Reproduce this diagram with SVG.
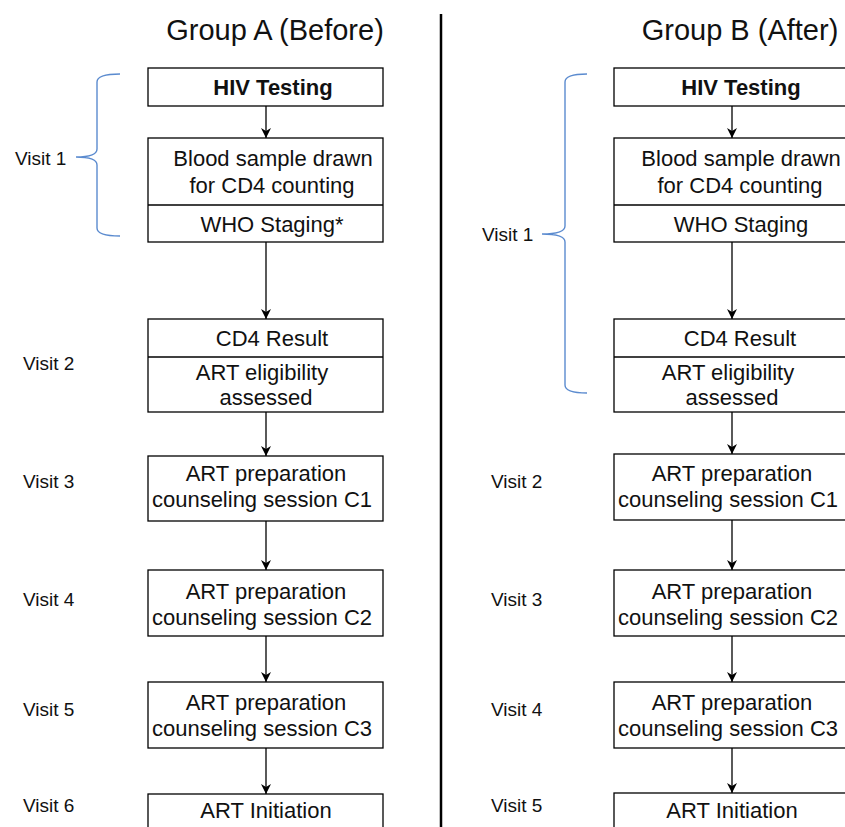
<svg xmlns="http://www.w3.org/2000/svg" width="845" height="827" viewBox="0 0 845 827">
<defs>
<marker id="arr" viewBox="0 0 10 10" refX="10" refY="5" markerWidth="10" markerHeight="10" markerUnits="userSpaceOnUse" orient="auto">
<path d="M0,0 L10,5 L0,10 L3,5 z" fill="#000"/>
</marker>
<style>
.box{fill:#fff;stroke:#000;stroke-width:1.3}
.div{stroke:#000;stroke-width:1.3}
.t{font-family:"Liberation Sans",Arial,sans-serif;font-size:22px;fill:#111;text-anchor:middle}
.b{font-weight:bold}
.title{font-family:"Liberation Sans",Arial,sans-serif;font-size:29px;fill:#111;text-anchor:middle}
.v{font-family:"Liberation Sans",Arial,sans-serif;font-size:19px;fill:#111}
.c{stroke:#000;stroke-width:1.3;fill:none;marker-end:url(#arr)}
.brace{stroke:#5b8bcf;stroke-width:1.4;fill:none}
</style>
</defs>
<rect width="845" height="827" fill="#fff"/>
<g id="titles">
<text class="title" x="275" y="40">Group A (Before)</text>
<text class="title" x="740" y="40">Group B (After)</text>
</g>
<line x1="441" y1="14" x2="441" y2="827" stroke="#000" stroke-width="2.5"/>
<g id="labelsA">
<text class="v" x="15" y="165">Visit 1</text>
<text class="v" x="23" y="370">Visit 2</text>
<text class="v" x="23" y="488">Visit 3</text>
<text class="v" x="23" y="606">Visit 4</text>
<text class="v" x="23" y="716">Visit 5</text>
<text class="v" x="23" y="812">Visit 6</text>
</g>
<g id="labelsB">
<text class="v" x="482" y="241">Visit 1</text>
<text class="v" x="491" y="488">Visit 2</text>
<text class="v" x="491" y="606">Visit 3</text>
<text class="v" x="491" y="716">Visit 4</text>
<text class="v" x="491" y="812">Visit 5</text>
</g>
<g id="braceA"><path class="brace" d="M120,74 Q97,74 97,82 L97,149 Q97,157 76,157 Q97,157 97,165 L97,228 Q97,236 120,236"/></g>
<g id="braceB"><path class="brace" d="M587,74 Q565,74 565,82 L565,226 Q565,234 542,234 Q565,234 565,242 L565,385 Q565,393 587,393"/></g>
<g id="connectors">
<line class="c" x1="266" y1="106" x2="266" y2="138"/>
<line class="c" x1="266" y1="242" x2="266" y2="319"/>
<line class="c" x1="266" y1="412" x2="266" y2="456"/>
<line class="c" x1="266" y1="521" x2="266" y2="570"/>
<line class="c" x1="266" y1="636" x2="266" y2="682"/>
<line class="c" x1="266" y1="748" x2="266" y2="794"/>
<line class="c" x1="732" y1="106" x2="732" y2="138"/>
<line class="c" x1="732" y1="242" x2="732" y2="319"/>
<line class="c" x1="732" y1="412" x2="732" y2="454"/>
<line class="c" x1="732" y1="520" x2="732" y2="570"/>
<line class="c" x1="732" y1="636" x2="732" y2="682"/>
<line class="c" x1="732" y1="748" x2="732" y2="793"/>
</g>
<g id="a-hiv"><rect class="box" x="148" y="68" width="235" height="38"/><text class="t b" x="273" y="95">HIV Testing</text></g>
<g id="a-blood"><rect class="box" x="148" y="138" width="235" height="104"/><line class="div" x1="148" y1="205" x2="383" y2="205"/>
<text class="t" x="273" y="166">Blood sample drawn</text><text class="t" x="272" y="193">for CD4 counting</text><text class="t" x="272" y="232">WHO Staging*</text></g>
<g id="a-cd4"><rect class="box" x="148" y="319" width="235" height="93"/><line class="div" x1="148" y1="357" x2="383" y2="357"/>
<text class="t" x="272" y="346">CD4 Result</text><text class="t" x="262" y="380">ART eligibility</text><text class="t" x="266" y="405">assessed</text></g>
<g id="a-c1"><rect class="box" x="148" y="456" width="235" height="65"/><text class="t" x="266" y="481">ART preparation</text><text class="t" x="262" y="507">counseling session C1</text></g>
<g id="a-c2"><rect class="box" x="148" y="570" width="235" height="66"/><text class="t" x="266" y="599">ART preparation</text><text class="t" x="262" y="625">counseling session C2</text></g>
<g id="a-c3"><rect class="box" x="148" y="682" width="235" height="66"/><text class="t" x="266" y="710">ART preparation</text><text class="t" x="262" y="736">counseling session C3</text></g>
<g id="a-init"><rect class="box" x="148" y="794" width="235" height="60"/><text class="t" x="266" y="818">ART Initiation</text></g>
<g id="b-hiv"><rect class="box" x="614" y="68" width="236" height="38"/><text class="t b" x="741" y="95">HIV Testing</text></g>
<g id="b-blood"><rect class="box" x="614" y="138" width="236" height="104"/><line class="div" x1="614" y1="205" x2="850" y2="205"/>
<text class="t" x="741" y="166">Blood sample drawn</text><text class="t" x="740" y="193">for CD4 counting</text><text class="t" x="741" y="232">WHO Staging</text></g>
<g id="b-cd4"><rect class="box" x="614" y="319" width="236" height="93"/><line class="div" x1="614" y1="357" x2="850" y2="357"/>
<text class="t" x="740" y="346">CD4 Result</text><text class="t" x="728" y="380">ART eligibility</text><text class="t" x="732" y="405">assessed</text></g>
<g id="b-c1"><rect class="box" x="614" y="454" width="236" height="66"/><text class="t" x="732" y="481">ART preparation</text><text class="t" x="728" y="507">counseling session C1</text></g>
<g id="b-c2"><rect class="box" x="614" y="570" width="236" height="66"/><text class="t" x="732" y="599">ART preparation</text><text class="t" x="728" y="625">counseling session C2</text></g>
<g id="b-c3"><rect class="box" x="614" y="682" width="236" height="66"/><text class="t" x="732" y="710">ART preparation</text><text class="t" x="728" y="736">counseling session C3</text></g>
<g id="b-init"><rect class="box" x="614" y="793" width="236" height="60"/><text class="t" x="732" y="818">ART Initiation</text></g>
</svg>
